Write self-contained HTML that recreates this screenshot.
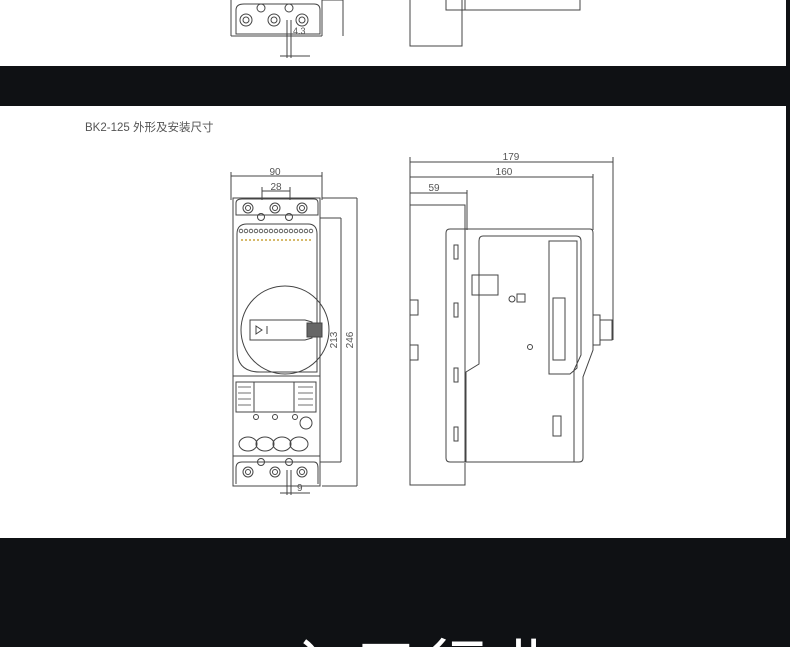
<!DOCTYPE html>
<html><head><meta charset="utf-8"><style>
html,body{margin:0;padding:0;background:#0f1114;width:790px;height:647px;overflow:hidden}
svg{display:block}
text{font-family:"Liberation Sans","Noto Sans CJK SC",sans-serif;fill:#555}
</style></head><body>
<svg width="790" height="647" viewBox="0 0 790 647">
<defs><clipPath id="c"><rect x="0" y="0" width="790" height="647"/></clipPath></defs>
<g clip-path="url(#c)">
<rect x="0" y="0" width="790" height="647" fill="#0f1114"/>
<rect x="0" y="0" width="786" height="66" fill="#fff"/>
<rect x="0" y="106" width="786" height="432" fill="#fff"/>
<g fill="none" stroke="#444" stroke-width="1">
<path d="M231 0 V36 M322 0 V36 M231 36 H322"/>
<path d="M236 10 Q236 4 244 4 H314 Q320 4 320 10 V34 H236 Z"/>
<circle cx="246" cy="20" r="6"/><circle cx="246" cy="20" r="3"/>
<circle cx="274" cy="20" r="6"/><circle cx="274" cy="20" r="3"/>
<circle cx="302" cy="20" r="6"/><circle cx="302" cy="20" r="3"/>
<circle cx="261" cy="8" r="4"/><circle cx="289" cy="8" r="4"/>
<path d="M287 20 V58 M291 20 V58 M280 56 H310 M322 0 H343 M343 0 V36"/>
<path d="M410 0 V46 H462 V0 M446 0 V10 H580 V0 M465 0 V10"/>
</g>
<text x="293" y="34" font-size="9">4.3</text>
<text x="85" y="131" font-size="11.5" fill="#333">BK2-125 外形及安装尺寸</text>
<g fill="none" stroke="#444" stroke-width="1">
<path d="M231 176 H322 M231 172 V200 M322 172 V200"/>
<path d="M262 191 H290 M262 187 V200 M290 187 V200"/>
<path d="M322 198 H357 M357 198 V486 M322 486 H357"/>
<path d="M320 218 H341 M341 218 V462 M320 462 H341"/>
<path d="M287 470 V495 M291 470 V495 M280 493 H310"/>
<path d="M233 198 H320 V486 H233 Z"/>
<path d="M236 203 Q236 199 242 199 H314 Q318 199 318 203 V215 H236 Z"/>
<circle cx="248" cy="208" r="5"/><circle cx="248" cy="208" r="2.5"/>
<circle cx="275" cy="208" r="5"/><circle cx="275" cy="208" r="2.5"/>
<circle cx="302" cy="208" r="5"/><circle cx="302" cy="208" r="2.5"/>
<circle cx="261" cy="217" r="3.5"/><circle cx="289" cy="217" r="3.5"/>
<path d="M237 234 Q237 224 247 224 H308 Q317 224 317 234 V372 H260 Q237 372 237 350 Z"/>
<g stroke-width="0.8">
<circle cx="241" cy="231" r="1.8"/><circle cx="246" cy="231" r="1.8"/><circle cx="251" cy="231" r="1.8"/><circle cx="256" cy="231" r="1.8"/><circle cx="261" cy="231" r="1.8"/><circle cx="266" cy="231" r="1.8"/><circle cx="271" cy="231" r="1.8"/><circle cx="276" cy="231" r="1.8"/><circle cx="281" cy="231" r="1.8"/><circle cx="286" cy="231" r="1.8"/><circle cx="291" cy="231" r="1.8"/><circle cx="296" cy="231" r="1.8"/><circle cx="301" cy="231" r="1.8"/><circle cx="306" cy="231" r="1.8"/><circle cx="311" cy="231" r="1.8"/>
</g>
<path d="M241 240 H313" stroke="#c9a23a" stroke-dasharray="2 2" stroke-width="1.5"/>
<circle cx="285" cy="330" r="44"/>
<path d="M250 320 H305 L312 322 V338 L305 340 H250 Z"/>
<rect x="307" y="323" width="15" height="14" fill="#666"/>
<path d="M256 326 L262 330 L256 334 Z M267 326 V334"/>
<path d="M233 376 H320"/>
<rect x="236" y="382" width="80" height="30"/>
<rect x="254" y="382" width="40" height="30"/>
<g stroke-width="0.7"><path d="M238 387 H251 M238 393 H251 M238 399 H251 M238 405 H251 M298 387 H313 M298 393 H313 M298 399 H313 M298 405 H313"/></g>
<circle cx="256" cy="417" r="2.5"/><circle cx="275" cy="417" r="2.5"/><circle cx="295" cy="417" r="2.5"/>
<circle cx="306" cy="423" r="6"/>
<ellipse cx="248" cy="444" rx="9" ry="7"/><ellipse cx="265" cy="444" rx="9" ry="7"/><ellipse cx="282" cy="444" rx="9" ry="7"/><ellipse cx="299" cy="444" rx="9" ry="7"/>
<path d="M233 456 H320"/>
<path d="M236 484 V468 Q236 462 242 462 H314 Q318 462 318 468 V484"/>
<circle cx="248" cy="472" r="5"/><circle cx="248" cy="472" r="2.5"/>
<circle cx="275" cy="472" r="5"/><circle cx="275" cy="472" r="2.5"/>
<circle cx="302" cy="472" r="5"/><circle cx="302" cy="472" r="2.5"/>
<circle cx="261" cy="462" r="3.5"/><circle cx="289" cy="462" r="3.5"/>
<path d="M410 162 H613 M410 157 V225 M613 157 V340"/>
<path d="M410 177 H593 M593 174 V230"/>
<path d="M410 193 H467 M467 190 V230"/>
<path d="M410 205 H465 V229"/>
<path d="M410 205 V485 H465 V463"/>
<path d="M410 300 H418 V315 H410 M410 345 H418 V360 H410"/>
<path d="M450 229 H590 Q593 229 593 233 V350 L583 377 V458 Q583 462 579 462 H450 Q446 462 446 458 V233 Q446 229 450 229 Z"/>
<path d="M465 229 V462"/>
<path d="M483 236 H576 Q581 236 581 241 V355 L574 370 V462"/>
<path d="M483 236 Q479 236 479 241 V364 L466 372 V462"/>
<path d="M549 241 H577 V368 L570 374 H549 Z"/>
<rect x="553" y="298" width="12" height="62"/>
<rect x="472" y="275" width="26" height="20"/>
<circle cx="512" cy="299" r="3"/><rect x="517" y="294" width="8" height="8"/>
<circle cx="530" cy="347" r="2.5"/>
<rect x="454" y="245" width="4" height="14"/><rect x="454" y="303" width="4" height="14"/><rect x="454" y="368" width="4" height="14"/><rect x="454" y="427" width="4" height="14"/>
<rect x="553" y="416" width="8" height="20"/>
<path d="M593 315 H600 V345 H593 M600 320 H612 V340 H600"/>
</g>
<text x="275" y="175" font-size="10" text-anchor="middle">90</text>
<text x="276" y="190" font-size="10" text-anchor="middle">28</text>
<text x="297" y="491" font-size="10">9</text>
<text transform="translate(337,340) rotate(-90)" font-size="10" text-anchor="middle">213</text>
<text transform="translate(353,340) rotate(-90)" font-size="10" text-anchor="middle">246</text>
<text x="511" y="160" font-size="10" text-anchor="middle">179</text>
<text x="504" y="175" font-size="10" text-anchor="middle">160</text>
<text x="434" y="191" font-size="10" text-anchor="middle">59</text>
<text x="285" y="690" font-size="62" style="fill:#fff" letter-spacing="8">入五行业</text>
</g>
</svg>
</body></html>
